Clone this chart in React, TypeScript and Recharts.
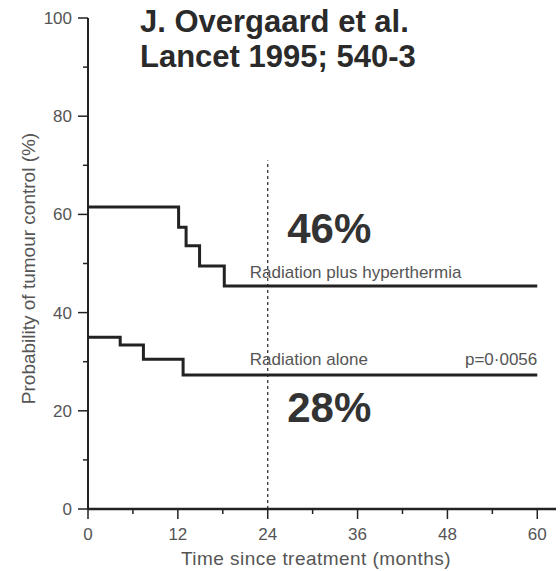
import React from "react";
import {
  LineChart,
  Line,
  XAxis,
  YAxis,
  ReferenceLine,
  ReferenceDot,
} from "recharts";

const plusTimes = [0, 12.1, 13.1, 14.9, 18.2, 60];
const plusValues = [61.5, 57.4, 53.6, 49.5, 45.4, 45.4];
const aloneTimes = [0, 4.3, 7.4, 12.7, 60];
const aloneValues = [35.0, 33.4, 30.5, 27.3, 27.3];
const xTicks = [0, 6, 12, 18, 24, 30, 36, 42, 48, 54, 60];
const yTicks = [0, 10, 20, 30, 40, 50, 60, 70, 80, 90, 100];
const titleLines = ["J. Overgaard et al.", "Lancet 1995; 540-3"];

const plusData = plusTimes.map((t, i) => ({ t, v: plusValues[i] }));
const aloneData = aloneTimes.map((t, i) => ({ t, v: aloneValues[i] }));

const FONT = "'Liberation Sans', Arial, sans-serif";
const INK = "#222";
const GREY = "#555";

function YTick(props: any) {
  const { x, y, payload } = props;
  const major = payload.value % 20 === 0;
  const ax = x + 16;
  return (
    <g>
      <line x1={ax} x2={ax - (major ? 10 : 5)} y1={y} y2={y} stroke={INK} strokeWidth={1.5} />
      {major && (
        <text x={x} y={y} dy="0.35em" textAnchor="end" fontSize={17} fill={GREY} fontFamily={FONT}>
          {payload.value}
        </text>
      )}
    </g>
  );
}

function XTick(props: any) {
  const { x, y, payload } = props;
  const major = payload.value % 12 === 0;
  const ay = y - 19;
  return (
    <g>
      <line x1={x} x2={x} y1={ay} y2={ay + (major ? 10 : 5)} stroke={INK} strokeWidth={1.5} />
      {major && (
        <text x={x} y={y} dy="0.71em" textAnchor="middle" fontSize={17} fill={GREY} fontFamily={FONT}>
          {payload.value}
        </text>
      )}
    </g>
  );
}

function note(text: string, size: number, weight: string, anchor: string, fill: string) {
  return (p: any) => (
    <text
      x={p.viewBox.x}
      y={p.viewBox.y}
      fontSize={size}
      fontWeight={weight}
      textAnchor={anchor}
      fill={fill}
      fontFamily={FONT}
    >
      {text}
    </text>
  );
}

export default function App() {
  return (
    <div style={{ position: "absolute", left: 0, top: 0, width: 560, height: 571, background: "#fff" }}>
      <LineChart
        width={560}
        height={571}
        margin={{ top: 18, right: 4, left: 0, bottom: 0 }}
      >
        <XAxis
          dataKey="t"
          type="number"
          domain={[0, 62.5]}
          ticks={xTicks}
          interval={0}
          tickSize={9}
          tickMargin={10}
          tickLine={false}
          tick={<XTick />}
          height={62}
          axisLine={{ stroke: INK, strokeWidth: 2.5 }}
          allowDataOverflow
          label={{
            content: (p: any) => {
              const vb = p.viewBox;
              return (
                <text
                  x={vb.x + vb.width / 2 - 6}
                  y={vb.y + vb.height - 6}
                  textAnchor="middle"
                  fontSize={19}
                  letterSpacing={0.45}
                  fill={GREY}
                  fontFamily={FONT}
                >
                  Time since treatment (months)
                </text>
              );
            },
          }}
        />
        <YAxis
          type="number"
          domain={[0, 100]}
          ticks={yTicks}
          interval={0}
          width={88}
          tickSize={10}
          tickMargin={6}
          tickLine={false}
          tick={<YTick />}
          axisLine={{ stroke: INK, strokeWidth: 2 }}
          label={{
            content: (p: any) => {
              const vb = p.viewBox;
              const cx = vb.x + 28;
              const cy = vb.y + vb.height / 2 + 5;
              return (
                <text
                  x={cx}
                  y={cy}
                  transform={`rotate(-90, ${cx}, ${cy})`}
                  textAnchor="middle"
                  dominantBaseline="central"
                  fontSize={19}
                  fill={GREY}
                  fontFamily={FONT}
                >
                  Probability of tumour control (%)
                </text>
              );
            },
          }}
        />
        <ReferenceLine
          segment={[
            { x: 24, y: 0 },
            { x: 24, y: 71 },
          ]}
          stroke="#333"
          strokeWidth={1.3}
          strokeDasharray="3 3"
        />
        <Line
          data={plusData}
          dataKey="v"
          type="stepAfter"
          stroke={INK}
          strokeWidth={3}
          dot={false}
          isAnimationActive={false}
        />
        <Line
          data={aloneData}
          dataKey="v"
          type="stepAfter"
          stroke={INK}
          strokeWidth={3}
          dot={false}
          isAnimationActive={false}
        />
        <ReferenceDot x={21.6} y={47} r={0} fill="none" stroke="none"
          label={note("Radiation plus hyperthermia", 17, "normal", "start", GREY)} />
        <ReferenceDot x={21.6} y={29.3} r={0} fill="none" stroke="none"
          label={note("Radiation alone", 17, "normal", "start", GREY)} />
        <ReferenceDot x={60} y={29.3} r={0} fill="none" stroke="none"
          label={note("p=0·0056", 17, "normal", "end", GREY)} />
        <ReferenceDot x={26.6} y={54.2} r={0} fill="none" stroke="none"
          label={note("46%", 42, "bold", "start", "#333")} />
        <ReferenceDot x={26.6} y={17.7} r={0} fill="none" stroke="none"
          label={note("28%", 42, "bold", "start", "#333")} />
      </LineChart>
      {titleLines.map((line, i) => (
        <div
          key={i}
          style={{
            position: "absolute",
            left: 140,
            top: 4 + i * 35,
            fontFamily: FONT,
            fontWeight: "bold",
            fontSize: 31,
            lineHeight: "35px",
            color: "#2a2a2a",
            whiteSpace: "nowrap",
          }}
        >
          {line}
        </div>
      ))}
    </div>
  );
}
